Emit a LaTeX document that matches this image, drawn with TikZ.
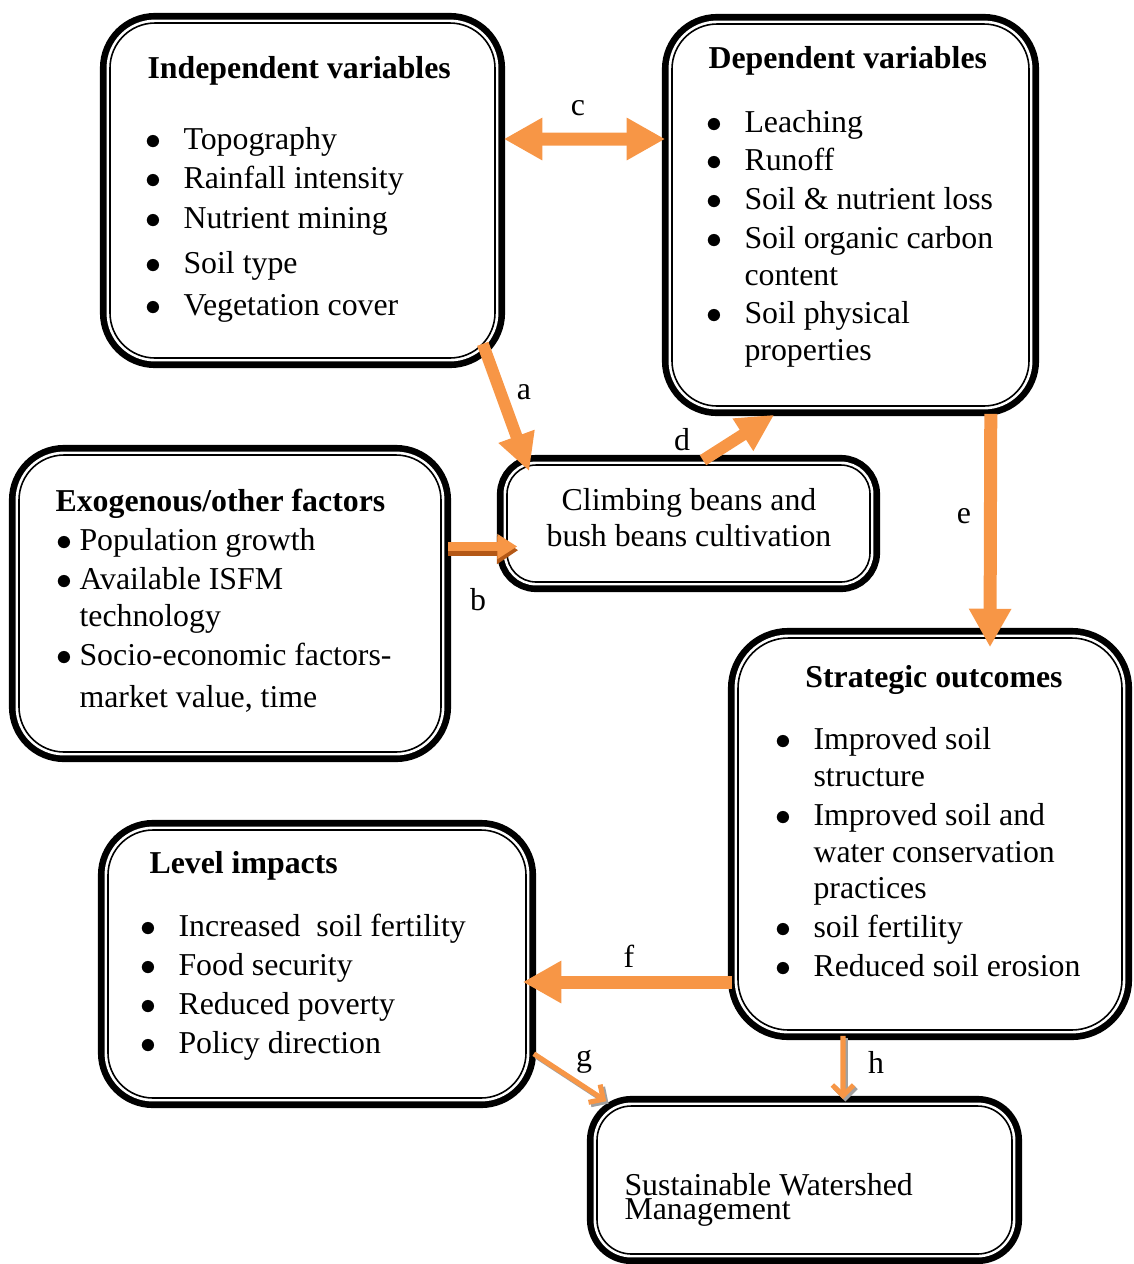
\documentclass[tikz,border=0pt]{standalone}
\usepackage{fontspec}
\setmainfont{Liberation Serif}
\usetikzlibrary{arrows.meta,fit,calc,positioning}
\definecolor{arrowcolor}{RGB}{247,150,70}
\definecolor{arrowdark}{RGB}{180,88,22}
\definecolor{shadowcolor}{RGB}{160,160,160}
\tikzstyle{every node}=[font=\fontsize{12}{14}\selectfont]
\tikzstyle{box}=[rounded corners=17pt, inner sep=0pt, fill=white, draw=black, line width=0.6pt,
    preaction={draw=black, line width=7.6pt},
    preaction={draw=white, line width=2.6pt}]
\tikzstyle{title}=[anchor=base west, inner sep=0pt, font=\fontsize{12}{14}\selectfont\bfseries]
\tikzstyle{item}=[anchor=base west, inner sep=0pt]
\tikzstyle{bullet}=[anchor=base, inner sep=0pt]
\tikzstyle{lbl}=[inner sep=0pt]
\tikzstyle{flow}=[draw=arrowcolor, line width=4.9pt, -{Triangle[width=15pt,length=14.5pt]}]
\tikzstyle{flowboth}=[flow, {Triangle[width=15pt,length=14.5pt]}-{Triangle[width=15pt,length=14.5pt]}]
\tikzstyle{flowsmall}=[draw=arrowcolor, line width=4.5pt, -{Triangle[width=13.5pt,length=14pt]}]
\tikzstyle{flowthin}=[draw=arrowcolor, line width=1.9pt, -{Straight Barb[width=8pt,length=4pt]}]

\begin{document}
\begin{tikzpicture}[x=0.377pt, y=-0.377pt]
\useasboundingbox (0,0) rectangle (1134,1264);
\def\bulletsep{30}

    % Boxes
    \node[box, fit={(110,23) (495,358)}] (IV) {};
    \node[box, fit={(672,24) (1029,406)}] (DV) {};
    \node[box, rounded corners=11pt, fit={(507,465) (870,582)}] (CB) {};
    \node[box, fit={(19,455) (441,752)}] (EX) {};
    \node[box, rounded corners=19pt, fit={(738,638) (1122,1030)}] (SO) {};
    \node[box, fit={(108,830) (526,1098)}] (LI) {};
    \node[box, rounded corners=13pt, fit={(597,1106) (1012,1254)}] (SW) {};

    % Independent variables
    \node[title] (IV-0) at (147,78) {Independent variables};
    \foreach \txt/\y [count=\i] in {Topography/149, Rainfall intensity/188, Nutrient mining/228, Soil type/273, Vegetation cover/315}{
        \node[bullet] (IV-b\i) at (153,\y) {$\bullet$};
        \node[item] (IV-\i) at (153+\bulletsep,\y) {\txt};
    }

    % Dependent variables
    \node[title] (DV-0) at (708,68) {Dependent variables};
    \foreach \txt/\y/\b [count=\i] in {Leaching/132/1, Runoff/170/1, Soil \& nutrient loss/209/1, Soil organic carbon/248/1, content/285/0, Soil physical/323/1, properties/360/0}{
        \ifnum\b=1 \node[bullet] (DV-b\i) at (714,\y) {$\bullet$}; \fi
        \node[item] (DV-\i) at (714+\bulletsep,\y) {\txt};
    }

    % Cultivation
    \node[bullet] (CB-1) at (689,510) {Climbing beans and};
    \node[bullet] (CB-2) at (689,546) {bush beans cultivation};

    % Exogenous factors
    \node[title] (EX-0) at (55,511) {Exogenous/other factors};
    \foreach \txt/\y/\b [count=\i] in {Population growth/550/1, Available ISFM/589/1, technology/626/0, Socio-economic factors-/665/1, {market value, time}/707/0}{
        \ifnum\b=1 \node[bullet] (EX-b\i) at (64,\y) {$\bullet$}; \fi
        \node[item] (EX-\i) at (79,\y) {\txt};
    }

    % Strategic outcomes
    \node[bullet, font=\fontsize{12}{14}\selectfont\bfseries] (SO-0) at (934,687) {Strategic outcomes};
    \foreach \txt/\y/\b [count=\i] in {Improved soil/749/1, structure/786/0, Improved soil and/825/1, water conservation/862/0, practices/898/0, soil fertility/937/1, Reduced soil erosion/976/1}{
        \ifnum\b=1 \node[bullet] (SO-b\i) at (783,\y) {$\bullet$}; \fi
        \node[item] (SO-\i) at (783+\bulletsep,\y) {\txt};
    }

    % Level impacts
    \node[title] (LI-0) at (149,873) {Level impacts};
    \foreach \txt/\y [count=\i] in {Increased~ soil fertility/936, Food security/975, Reduced poverty/1014, Policy direction/1053}{
        \node[bullet] (LI-b\i) at (148,\y) {$\bullet$};
        \node[item] (LI-\i) at (148+\bulletsep,\y) {\txt};
    }

    % Watershed management
    \node[item] (SW-1) at (624,1195) {Sustainable Watershed};
    \node[item] (SW-2) at (624,1219) {Management};

    % Arrows
    \draw[flowboth] ([shift={(8,-51.5)}]IV.east) -- ([shift={(-6,-76)}]DV.west);
    \draw[flowsmall] ([shift={(-13,-15)}]IV.south east) -- ([shift={(23,7)}]CB.north west);
    \draw[flowsmall] ([shift={(14.5,-4)}]CB.north) -- ([shift={(103,8)}]DV.south west);
    \draw[flow] ([shift={(-39,7)}]DV.south east) -- ([shift={(60,10)}]SO.north);
    \draw[flow] ([shift={(-5,148)}]SO.west) -- ([shift={(-4,18)}]LI.east);

    % 3d arrow b
    \draw[draw=arrowdark, line width=4.5pt, -{Triangle[width=10pt,length=8pt]}, transform canvas={yshift=-1pt}]
        ([shift={(6,-56)}]EX.east) -- ([shift={(12,24)}]CB.west);
    \draw[draw=arrowcolor, line width=3.5pt, -{Triangle[width=9pt,length=7.5pt]}]
        ([shift={(6,-57)}]EX.east) -- ([shift={(11,23)}]CB.west);

    % thin arrows with shadow
    \foreach \col/\dx in {shadowcolor/0.9, arrowcolor/0}{
        \draw[flowthin, draw=\col, transform canvas={shift={(\dx pt,-\dx pt)}}]
            ([shift={(7,-45)}]LI.south east) -- ([shift={(10,-4)}]SW.north west);
        \draw[flowthin, draw=\col, transform canvas={shift={(\dx pt,-\dx pt)}}]
            ([shift={(-87,5)}]SO.south) -- ([shift={(38.5,-6)}]SW.north);
    }

    % Labels
    \node[lbl] (lbl-a) at (524,392) {a};
    \node[lbl] (lbl-b) at (478,600) {b};
    \node[lbl] (lbl-c) at (578,108) {c};
    \node[lbl] (lbl-d) at (682,440) {d};
    \node[lbl] (lbl-e) at (964,516) {e};
    \node[lbl] (lbl-f) at (629,956) {f};
    \node[lbl] (lbl-g) at (584,1062) {g};
    \node[lbl] (lbl-h) at (876,1062) {h};

\end{tikzpicture}
\end{document}
